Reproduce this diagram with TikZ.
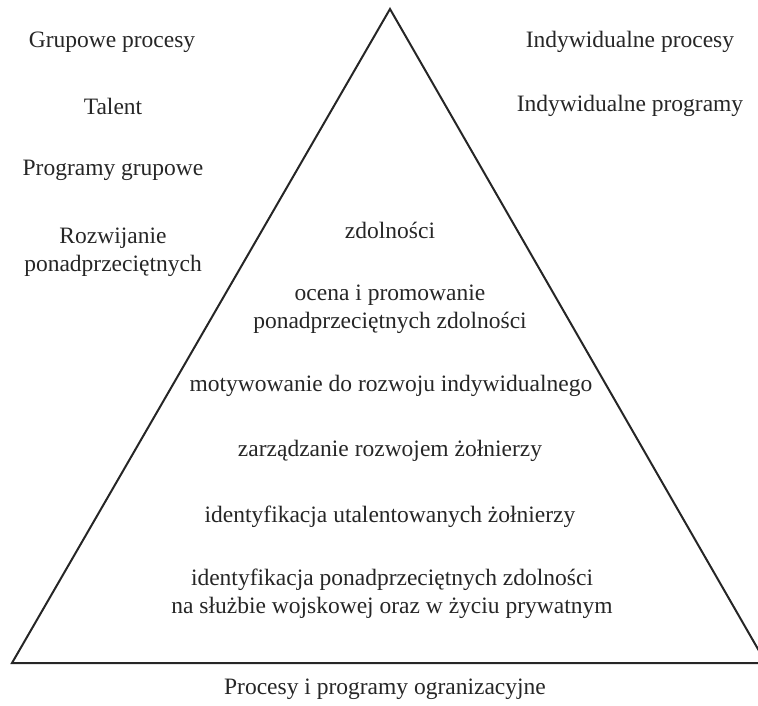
\documentclass[tikz,border=0pt]{standalone}
\usepackage{fontspec}
\setmainfont{Liberation Serif}
\begin{document}
\begin{tikzpicture}[x=1pt,y=-1pt,
  lbl/.style={inner sep=0pt,align=center,font=\fontsize{23.5}{28}\selectfont,text=black!85},
  tri/.style={draw=black!85,line width=2pt,line join=miter}]
\useasboundingbox (0,0) rectangle (758,706);
\coordinate (apex) at (390,9);
\coordinate (bl) at (12,663);
\coordinate (br) at (766,663);
\draw[tri] (bl) -- (apex) -- (br) -- cycle;
\node[lbl] (gp) at (112,42) {Grupowe procesy};
\node[lbl] (tal) at (113,106) {Talent};
\node[lbl] (pg) at (113,170) {Programy grupowe};
\node[lbl] (roz) at (113,252) {Rozwijanie\\ponadprzeciętnych};
\node[lbl] (ip) at (630,42) {Indywidualne procesy};
\node[lbl] (ipr) at (630,106) {Indywidualne programy};
\node[lbl] (zd) at (390,230) {zdolności};
\node[lbl] (oc) at (390,309) {ocena i promowanie\\ponadprzeciętnych zdolności};
\node[lbl] (mot) at (391,386) {motywowanie do rozwoju indywidualnego};
\node[lbl] (zar) at (390,451) {zarządzanie rozwojem żołnierzy};
\node[lbl] (ide) at (390,517) {identyfikacja utalentowanych żołnierzy};
\node[lbl] (idp) at (392,594) {identyfikacja ponadprzeciętnych zdolności\\na służbie wojskowej oraz w życiu prywatnym};
\node[lbl] (pro) at (385,689) {Procesy i programy ogranizacyjne};
\end{tikzpicture}
\end{document}
